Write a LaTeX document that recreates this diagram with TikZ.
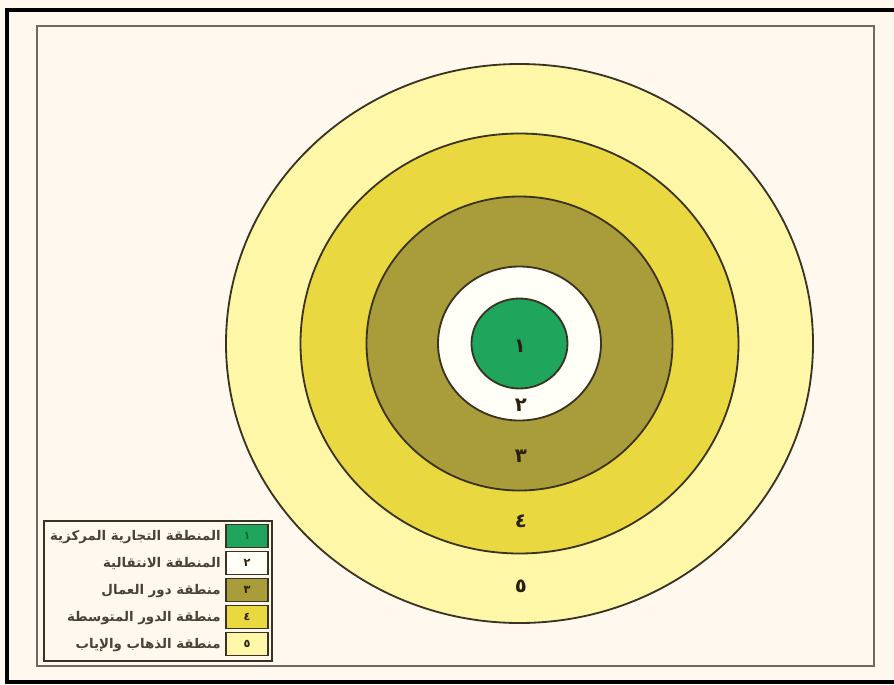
\documentclass[tikz,border=0pt]{standalone}
\usepackage{fontspec}
\newfontfamily\arabicfont[Script=Arabic]{DejaVu Sans}
\TeXXeTstate=1
\definecolor{paper}{HTML}{FEF8EE}
\definecolor{framegray}{HTML}{6E6A62}
\definecolor{ringline}{HTML}{3B3322}
\definecolor{numtext}{HTML}{2A2010}
\definecolor{zoneA}{HTML}{1FA65C}
\definecolor{zoneB}{HTML}{FFFEF7}
\definecolor{zoneC}{HTML}{A99C3A}
\definecolor{zoneD}{HTML}{E9D83F}
\definecolor{zoneE}{HTML}{FFF7A8}
\tikzset{
  ring/.style={draw=ringline,line width=1.3pt},
  num/.style={font=\arabicfont\bfseries\fontsize{14}{14}\selectfont,text=numtext,inner sep=0pt},
  swatch/.style={draw=ringline,line width=0.8pt,minimum width=1.05cm,minimum height=0.56cm,inner sep=0pt,
    font=\arabicfont\bfseries\fontsize{8}{8}\selectfont,text=numtext},
  keytext/.style={anchor=east,inner sep=0pt,font=\arabicfont\bfseries\fontsize{9.5}{10}\selectfont,text=numtext!85}
}
\begin{document}
\begin{tikzpicture}[x=0.025cm,y=-0.025cm]
  \useasboundingbox (0,0) rectangle (894,684);
  \clip (0,0) rectangle (894,684);
  \fill[paper] (0,0) rectangle (894,684);
  \draw[line width=2.5pt] (7,10) rectangle (900,682);
  \draw[framegray,line width=1.4pt] (37,26) rectangle (874,666);
  \coordinate (c) at (519.5,343.5);
  \draw[ring,fill=zoneE] (c) ellipse [x radius=293.5,y radius=279.5];
  \draw[ring,fill=zoneD] (c) ellipse [x radius=219,y radius=210];
  \draw[ring,fill=zoneC] (c) ellipse [x radius=153,y radius=147];
  \draw[ring,fill=zoneB] (c) ellipse [x radius=81.5,y radius=77];
  \draw[ring,fill=zoneA] (c) ellipse [x radius=48,y radius=45];
  \node[num] (n1) at (520,346) {١};
  \node[num] (n2) at (521,405) {٢};
  \node[num] (n3) at (521,456) {٣};
  \node[num] (n4) at (521,521) {٤};
  \node[num] (n5) at (521,586) {٥};
  \draw[ringline,line width=1.2pt,fill=paper] (44,521) rectangle (272,661);
  \node[swatch,fill=zoneA,text=zoneA!60!black] (s1) at (247,536) {١};
  \node[swatch,fill=zoneB] (s2) at (247,563) {٢};
  \node[swatch,fill=zoneC] (s3) at (247,590) {٣};
  \node[swatch,fill=zoneD] (s4) at (247,617) {٤};
  \node[swatch,fill=zoneE] (s5) at (247,644) {٥};
  \node[keytext] (k1) at (221,537) {\beginR المنطقة التجارية المركزية\endR};
  \node[keytext] (k2) at (221,564) {\beginR المنطقة الانتقالية\endR};
  \node[keytext] (k3) at (221,591) {\beginR منطقة دور العمال\endR};
  \node[keytext] (k4) at (221,618) {\beginR منطقة الدور المتوسطة\endR};
  \node[keytext] (k5) at (221,645) {\beginR منطقة الذهاب والإياب\endR};
\end{tikzpicture}
\end{document}
